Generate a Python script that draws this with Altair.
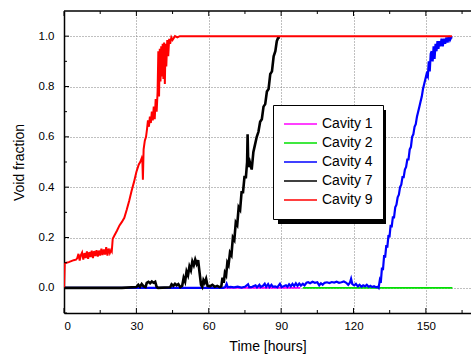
import altair as alt
import pandas as pd

# ---------------- data ----------------
series_names = ["Cavity 1", "Cavity 2", "Cavity 4", "Cavity 7", "Cavity 9"]
series_colors = ["#ff00ff", "#00e000", "#0000ff", "#000000", "#ff0000"]
series_widths = [1.8, 1.8, 2.2, 2.6, 2.0]

# Cavity 1 (hidden under the others, at zero)
c1_t = [0, 98]
c1_v = [0, 0]

# Cavity 2
c2_t = [99, 161]
c2_v = [0, 0]

# Cavity 4
c4_t = [0, 65, 66, 66.8, 67.4, 67.9, 69, 70.5, 72, 73.5, 75, 76.3, 76.8, 78, 79.4, 80, 81, 81.5,
        82.5, 83.2, 83.8, 84.6, 85.2, 86, 86.6, 87.5, 88.4, 89.5, 90.2, 91, 92, 92.6, 93.3, 94,
        94.7, 95.4, 96.1, 96.8, 97.5, 98.2, 99, 99.7, 100.5, 101.2, 102, 103, 104, 105, 105.8,
        106.5, 107.2, 108, 109, 110, 111, 112, 113, 114, 115, 116, 117, 117.8, 118.5, 119, 119.5,
        120.3, 121, 121.8, 122.5, 123.3, 124, 124.8, 125.5, 126.3, 127, 127.8, 128.5, 129.3, 130,
        130.4, 130.9, 131.3, 131.8, 132.2, 132.7, 133.1, 133.6, 134, 134.5, 134.9, 135.4, 135.8,
        136.3, 136.8, 137.3, 137.8, 138.3, 138.8, 139.3, 139.8, 140.3, 140.8, 141.3, 141.8, 142.3,
        142.8, 143.3, 143.8, 144.3, 144.8, 145.3, 145.8, 146.3, 146.8, 147.3, 147.8, 148.3, 148.8,
        149.3, 149.8, 150.3, 150.8, 151.2, 151.6, 152, 152.4, 152.8, 153.2, 153.6, 154, 154.4,
        154.8, 155.2, 155.6, 156, 156.5, 157, 157.5, 158, 158.5, 159, 159.5, 160, 160.5, 161]
c4_v = [0, 0, 0, 0.003, 0.016, 0.002, 0.004, 0.002, 0.005, 0.001, 0.004, 0.014, 0.002, 0.004,
        0.01, 0.002, 0.012, 0.003, 0.008, 0.016, 0.004, 0.015, 0.003, 0.012, 0.004, 0.006, 0.002,
        0.016, 0.003, 0.006, 0.01, 0.004, 0.014, 0.006, 0.016, 0.007, 0.018, 0.008, 0.017, 0.009,
        0.016, 0.01, 0.02, 0.022, 0.018, 0.024, 0.02, 0.022, 0.01, 0.018, 0.012, 0.02, 0.022,
        0.019, 0.023, 0.021, 0.024, 0.02, 0.022, 0.025, 0.02, 0.012, 0.02, 0.036, 0.015, 0.01,
        0.016, 0.006, 0.012, 0.004, 0.01, 0.006, 0.012, 0.004, 0.008, 0.003, 0.006, 0.002, 0.004,
        0.0, 0.03, 0.02, 0.08, 0.07, 0.13, 0.12, 0.17, 0.16, 0.21, 0.2, 0.25, 0.24, 0.28, 0.28,
        0.32, 0.33, 0.36, 0.37, 0.4, 0.41, 0.44, 0.44, 0.47, 0.48, 0.51, 0.51, 0.55, 0.56, 0.6,
        0.61, 0.64, 0.65, 0.68, 0.7, 0.72, 0.74, 0.76, 0.79, 0.81, 0.83, 0.85, 0.84, 0.9, 0.86,
        0.93, 0.94, 0.9, 0.96, 0.91, 0.97, 0.94, 0.98, 0.95, 0.98, 0.96, 0.99, 0.96, 0.99, 0.97,
        0.995, 0.975, 1.0, 0.985, 0.995, 0.995]

# Cavity 7
c7_t = [0, 24, 30, 30.8, 31.5, 32.2, 33, 33.8, 34.3, 35, 35.7, 36.4, 37.1, 37.8, 38.4, 39, 44,
        44.6, 45.3, 46, 46.7, 47.4, 48.2, 49, 49.6, 50.2, 50.8, 51.4, 52, 52.6, 53.2, 53.8, 54.4,
        55, 55.6, 56.2, 56.8, 57.3, 57.8, 58.3, 58.9, 59.5, 60.5, 61.5, 62.5, 63.5, 64.5,
        65.2, 65.7, 66.2, 66.7, 67.2, 67.7, 68.2, 68.8, 69.4, 70, 70.6, 71.2, 71.8, 72.4, 73,
        73.6, 74.2, 74.8, 75.4, 75.9, 76.1, 76.4, 77, 77.8, 78.5, 79.2, 79.9, 80.6, 81.3, 82,
        82.7, 83.4, 84.1, 84.8, 85.5, 86.2, 86.9, 87.6, 88.2, 88.8, 89.5]
c7_v = [0, 0, 0.003, 0.012, 0.004, 0.015, 0.006, 0.003, 0.02, 0.024, 0.018, 0.025, 0.02, 0.024,
        0.004, 0, 0.002, 0.014, 0.008, 0.016, 0.01, 0.015, 0.003, 0.008, 0.04, 0.025, 0.065,
        0.05, 0.085, 0.07, 0.105, 0.09, 0.112, 0.095, 0.11, 0.06, 0.012, 0.004, 0.03, 0.02,
        0.036, 0.008, 0.006, 0.012, 0.004, 0.008, 0.003,
        0.006, 0.04, 0.02, 0.06, 0.05, 0.1, 0.09, 0.14, 0.13, 0.2, 0.19, 0.26, 0.25, 0.32, 0.31,
        0.38, 0.38, 0.44, 0.44, 0.5, 0.61, 0.48, 0.5, 0.47, 0.54, 0.57, 0.6, 0.62, 0.66, 0.67,
        0.72, 0.73, 0.78, 0.79, 0.85, 0.86, 0.92, 0.94, 0.98, 0.995, 0.995]

# Cavity 9
c9_t = [0, 0.3, 1, 2, 3, 4, 5, 5.5, 6, 6.5, 7, 7.5, 8, 8.5, 9, 9.5, 10, 10.5, 11, 11.5, 12, 12.5,
        13, 13.5, 14, 14.5, 15, 15.5, 16, 16.5, 17, 17.5, 18, 18.5, 19, 19.5, 19.8, 20.2, 21, 22,
        23, 24, 25, 26, 27, 28, 29, 30, 31, 31.6, 32.2, 32.5, 32.7, 33, 33.5, 34, 34.4, 34.8,
        35.2, 35.6, 36, 36.4, 36.8, 37.2, 37.6, 38, 38.4, 38.8, 39.1, 39.4, 39.7, 40, 40.3, 40.6,
        40.9, 41.2, 41.5, 41.8, 42.1, 42.4, 42.8, 43.2, 43.6, 44, 44.5, 45, 46, 47, 48, 160.8]
c9_v = [0, 0.098, 0.1, 0.102, 0.106, 0.11, 0.112, 0.118, 0.135, 0.108, 0.13, 0.14, 0.112, 0.138,
        0.118, 0.145, 0.115, 0.142, 0.122, 0.148, 0.118, 0.146, 0.126, 0.15, 0.124, 0.148, 0.128,
        0.156, 0.13, 0.152, 0.132, 0.162, 0.128, 0.156, 0.138, 0.15, 0.145, 0.195, 0.21, 0.228,
        0.248, 0.262, 0.278, 0.31, 0.345, 0.385, 0.42, 0.46, 0.49, 0.5, 0.515, 0.5, 0.43, 0.55,
        0.585, 0.6, 0.63, 0.665, 0.64, 0.68, 0.655, 0.7, 0.665, 0.72, 0.67, 0.75, 0.7, 0.78,
        0.94, 0.76, 0.95, 0.82, 0.96, 0.84, 0.97, 0.83, 0.975, 0.81, 0.97, 0.88, 0.985, 0.92,
        0.99, 0.97, 0.995, 0.985, 1.0, 0.995, 1.0, 1.0]

x_major = [0, 30, 60, 90, 120, 150]
x_minor = [15, 45, 75, 105, 135, 165]
y_major = [0.0, 0.2, 0.4, 0.6, 0.8, 1.0]
y_minor = [-0.1, 0.1, 0.3, 0.5, 0.7, 0.9]

# ---------------- chart ----------------
W, H = 407, 302
FONT = "Liberation Sans"
xscale = alt.Scale(domain=[0, 168.7], nice=False, zero=False)
yscale = alt.Scale(domain=[-0.1, 1.1], nice=False, zero=False)
cscale = alt.Scale(domain=series_names, range=series_colors)

xaxis = alt.Axis(values=x_major, format="d", grid=True, gridColor="#808080", gridDash=[1, 2],
                 ticks=False, domain=True, domainColor="black", domainWidth=1.5,
                 labelFont=FONT, labelFontSize=11.5, labelColor="black", labelPadding=7,
                 title="Time [hours]", titleFont=FONT, titleFontSize=14,
                 titleFontWeight="normal", titleColor="black", titlePadding=8)
yaxis = alt.Axis(values=y_major, format=".1f", grid=True, gridColor="#808080", gridDash=[1, 2],
                 ticks=False, domain=True, domainColor="black", domainWidth=1.5,
                 labelFont=FONT, labelFontSize=11.5, labelColor="black", labelPadding=10,
                 title="Void fraction", titleFont=FONT, titleFontSize=14,
                 titleFontWeight="normal", titleColor="black", titlePadding=12)
legend = alt.Legend(title=None, orient="none", legendX=209, legendY=94, fillColor="white",
                    strokeColor="black", padding=10, symbolType="stroke", symbolSize=1089,
                    symbolStrokeWidth=1.5, labelFont=FONT, labelFontSize=14,
                    labelColor="black", labelOffset=4, clipHeight=18, rowPadding=1)

X = lambda: alt.X("t:Q", scale=xscale, axis=xaxis)
Y = lambda: alt.Y("v:Q", scale=yscale, axis=yaxis)

series = [(series_names[0], c1_t, c1_v), (series_names[1], c2_t, c2_v),
          (series_names[2], c4_t, c4_v), (series_names[3], c7_t, c7_v),
          (series_names[4], c9_t, c9_v)]

layers = []
for (name, ts, vs), sw in zip(series, series_widths):
    assert len(ts) == len(vs), name
    df = pd.DataFrame({"t": ts, "v": vs, "series": name})
    layers.append(
        alt.Chart(df).mark_line(strokeWidth=sw, clip=True).encode(
            x=X(), y=Y(),
            color=alt.Color("series:N", scale=cscale, legend=legend),
        )
    )

one = pd.DataFrame({"k": [0]})
dfx_major = pd.DataFrame({"t": x_major})
dfx_minor = pd.DataFrame({"t": x_minor})
dfy_major = pd.DataFrame({"v": y_major})
dfy_minor = pd.DataFrame({"v": y_minor})

def xt(df, y0, y1):
    return alt.Chart(df).mark_rule(color="black", strokeWidth=1).encode(
        x=X(), y=alt.value(y0), y2=alt.value(y1))

def yt(df, x1):
    return alt.Chart(df).mark_rule(color="black", strokeWidth=1).encode(
        y=Y(), x=alt.value(0), x2=alt.value(x1))

ticks = [xt(dfx_major, H, H - 5), xt(dfx_minor, H, H - 3),
         xt(dfx_major, 0, 5), xt(dfx_minor, 0, 3),
         yt(dfy_major, 5), yt(dfy_minor, 3)]

top_frame = alt.Chart(one).mark_rule(color="black", strokeWidth=1.5).encode(
    x=alt.value(0), x2=alt.value(W), y=alt.value(0))

shadow = alt.Chart(one).mark_rect(color="black").encode(
    x=alt.value(214), x2=alt.value(322), y=alt.value(99), y2=alt.value(213))

chart = alt.layer(*layers, *ticks, top_frame, shadow).properties(
    width=W, height=H,
    autosize=alt.AutoSizeParams(type="none"),
    padding={"left": 64, "top": 11, "right": 0, "bottom": 44},
    background="white",
).configure_view(stroke=None)

chart.save("out.html", embed_options={"renderer": "svg", "actions": False})
